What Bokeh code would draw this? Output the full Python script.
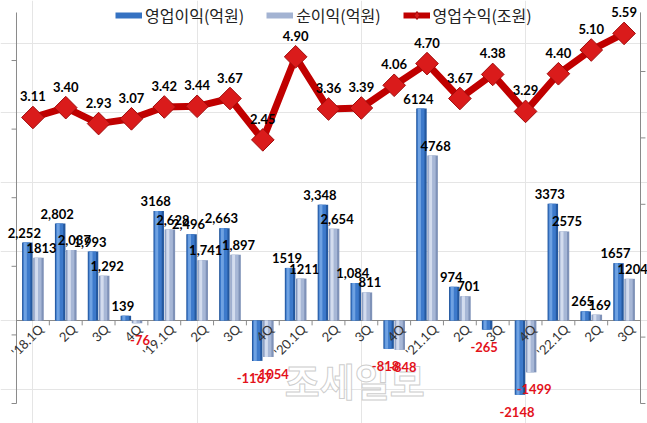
import math
from bokeh.plotting import figure
from bokeh.models import (Range1d, ColumnDataSource, Legend, LegendItem, LabelSet)
from bokeh.core.properties import value
from bokeh.embed import file_html
from bokeh.resources import INLINE

# ---------------- data ----------------
quarters = ["'18.1Q", "2Q", "3Q", "4Q", "'19.1Q", "2Q", "3Q", "4Q", "'20.1Q", "2Q",
            "3Q", "4Q", "'21.1Q", "2Q", "3Q", "4Q", "'22.1Q", "2Q", "3Q"]
op_profit = [2252, 2802, 1993, 139, 3168, 2496, 2663, -1167, 1519, 3348,
             1084, -818, 6124, 974, -265, -2148, 3373, 265, 1657]
net_income = [1813, 2037, 1292, -76, 2628, 1741, 1897, -1054, 1211, 2654,
              811, -848, 4768, 701, float("nan"), -1499, 2575, 169, 1204]
revenue = [3.11, 3.40, 2.93, 3.07, 3.42, 3.44, 3.67, 2.45, 4.90, 3.36,
           3.39, 4.06, 4.70, 3.67, 4.38, 3.29, 4.40, 5.10, 5.59]
op_labels = ["2,252", "2,802", "1,993", "139", "3168", "2,496", "2,663", "-1167", "1519", "3,348",
             "1,084", "-818", "6124", "974", "-265", "-2148", "3373", "265", "1657"]
net_labels = ["1813", "2,037", "1,292", "-76", "2,628", "1,741", "1,897", "-1054", "1211", "2,654",
              "811", "-848", "4768", "701", "", "-1499", "2575", "169", "1204"]
series_names = ["영업이익(억원)", "순이익(억원)", "영업수익(조원)"]
axis_ticks = [0, 1, 2, 3, 4, 5]

# ---------------- style ----------------
OFF = 0.17
BW = 0.32
LABEL_FONT = "Lato"
NEG = "#E3121B"
AXIS_GRAY = "#8a8a8a"
TICK_DX = 0.15  # tick length in category units (~5px)

n = len(quarters)
xs = list(range(n))
X0, X1 = -0.5, n - 0.5  # plot-area edges (where the value axes sit)

p = figure(width=647, height=423, output_backend="svg", toolbar_location=None,
           x_range=Range1d(-0.987, 18.713), y_range=Range1d(-2977, 9249),
           x_axis_location=None, y_axis_location=None,
           min_border_left=0, min_border_right=0, min_border_top=0, min_border_bottom=0)
p.outline_line_color = None
p.background_fill_color = "white"
p.border_fill_color = "white"
p.extra_y_ranges = {"line": Range1d(-5.917, 6.561),
                    "lt": Range1d(-0.2915, 5.875),
                    "rt": Range1d(-0.301, 6.069)}

# ---------------- value axes (drawn as lines, labels hidden in reference) ----------------
p.segment(x0=[X0], y0=[0], x1=[X0], y1=[5.70], y_range_name="lt",
          line_color=AXIS_GRAY, line_width=1)
p.segment(x0=[X0 - TICK_DX] * 6, y0=axis_ticks, x1=[X0] * 6, y1=axis_ticks,
          y_range_name="lt", line_color=AXIS_GRAY, line_width=1)
p.segment(x0=[X1], y0=[0], x1=[X1], y1=[5.89], y_range_name="rt",
          line_color=AXIS_GRAY, line_width=1)
p.segment(x0=[X1] * 6, y0=axis_ticks, x1=[X1 + TICK_DX] * 6, y1=axis_ticks,
          y_range_name="rt", line_color=AXIS_GRAY, line_width=1)

# baseline & category ticks
p.segment(x0=[X0], y0=[0], x1=[X1], y1=[0], line_color=AXIS_GRAY, line_width=1)
bounds = [i + 0.5 for i in xs[:-1]]
p.segment(x0=bounds, y0=[0] * len(bounds), x1=bounds, y1=[-140] * len(bounds),
          line_color=AXIS_GRAY, line_width=1)

# ---------------- bars (with simple shading) ----------------
op_x = [x - OFF for x in xs]
net_x = [x + OFF for x in xs]
p.vbar(x=op_x, top=op_profit, bottom=0, width=BW, fill_color="#24589F", line_color=None)
p.vbar(x=[x - 0.02 for x in op_x], top=op_profit, bottom=0, width=BW * 0.7,
       fill_color="#3D7ACB", line_color=None)
p.vbar(x=[x - 0.06 for x in op_x], top=op_profit, bottom=0, width=BW * 0.28,
       fill_color="#6FA2E2", line_color=None)

p.vbar(x=net_x, top=net_income, bottom=0, width=BW, fill_color="#7F92B8", line_color=None)
p.vbar(x=[x - 0.02 for x in net_x], top=net_income, bottom=0, width=BW * 0.7,
       fill_color="#A7B7D6", line_color=None)
p.vbar(x=[x - 0.06 for x in net_x], top=net_income, bottom=0, width=BW * 0.28,
       fill_color="#D3DCEE", line_color=None)

# watermark
p.text(x=[9.8], y=[-1700], text=["조세일보"], text_font=value("Noto Sans CJK KR"),
       text_font_style="bold", text_font_size="38px", text_align="center",
       text_baseline="middle", text_color="#ffffff", text_alpha=0.9,
       text_outline_color="#c8c8c8")

# ---------------- line ----------------
p.line(xs, revenue, y_range_name="line", line_color="#C00000", line_width=7, line_join="round")
p.scatter(xs, revenue, y_range_name="line", marker="square", angle=math.pi / 4, size=16,
          fill_color="#DA1B1B", line_color="#A00D0D", line_width=1)

# ---------------- labels ----------------
def bar_label_src(xpos, vals, labels, dx):
    ok = [not (isinstance(v, float) and math.isnan(v)) for v in vals]
    return ColumnDataSource(dict(
        x=[x for x, o in zip(xpos, ok) if o],
        y=[v for v, o in zip(vals, ok) if o],
        t=[l for l, o in zip(labels, ok) if o],
        yo=[10 if v >= 0 else -17 for v, o in zip(vals, ok) if o],
        xo=[dx] * sum(ok),
        c=["#000000" if v >= 0 else NEG for v, o in zip(vals, ok) if o],
    ))

for src in (bar_label_src(op_x, op_profit, op_labels, -3),
            bar_label_src(net_x, net_income, net_labels, 3)):
    p.add_layout(LabelSet(x="x", y="y", text="t", source=src, x_offset="xo", y_offset="yo",
                          text_color="c", text_font=value(LABEL_FONT), text_font_style="bold",
                          text_font_size="13px", text_align="center", text_baseline="middle"))

rev_src = ColumnDataSource(dict(x=xs, y=revenue, t=["%.2f" % v for v in revenue]))
p.add_layout(LabelSet(x="x", y="y", text="t", source=rev_src, y_range_name="line",
                      y_offset=21, text_color="#000000", text_font=value(LABEL_FONT),
                      text_font_style="bold", text_font_size="13px",
                      text_align="center", text_baseline="middle"))

# category labels
cat_src = ColumnDataSource(dict(x=xs, y=[0] * n, t=quarters))
p.add_layout(LabelSet(x="x", y="y", text="t", source=cat_src, angle=math.pi / 4,
                      x_offset=8, y_offset=-6, text_color="#333333",
                      text_font=value(LABEL_FONT), text_font_size="13px",
                      text_align="right", text_baseline="middle"))

# ---------------- legend (sample glyphs placed off-canvas) ----------------
d1 = p.line(x=[-20, -19], y=[0, 0], line_color="#3572C2", line_width=6)
d2 = p.line(x=[-20, -19], y=[0, 0], line_color="#A3B3D2", line_width=6)
d3 = p.line(x=[-20, -19], y=[0, 0], line_color="#C00000", line_width=6)
d4 = p.scatter(x=[-20], y=[0], marker="diamond", size=16,
               fill_color="#DA1B1B", line_color="#A00D0D")
legend = Legend(items=[LegendItem(label=series_names[0], renderers=[d1]),
                       LegendItem(label=series_names[1], renderers=[d2]),
                       LegendItem(label=series_names[2], renderers=[d3, d4])],
                location=(115, 396), orientation="horizontal",
                border_line_alpha=0, background_fill_alpha=0,
                label_text_font="Noto Sans CJK KR", label_text_font_size="16px",
                label_text_color="#222222",
                glyph_width=27, glyph_height=20, label_height=20,
                label_standoff=3, spacing=22, padding=0, margin=0)
p.add_layout(legend)

open("out.html", "w").write(file_html(p, INLINE))
